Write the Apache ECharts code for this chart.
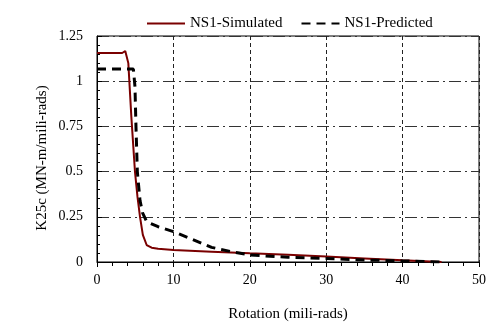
<!DOCTYPE html>
<html><head><meta charset="utf-8">
<script src="https://cdn.jsdelivr.net/npm/echarts@6/dist/echarts.min.js"></script>
<style>html,body{margin:0;padding:0;background:#fff}#c{width:486px;height:322px}</style>
</head><body><div id="c"></div>
<script>
const simX = [0, 2, 3.3, 3.7, 3.9, 4.1, 4.5, 4.97, 5.3, 5.63, 6.0, 6.5, 7.15, 8, 10, 15, 20, 25, 30, 35, 40, 45.1];
const simY = [1.156, 1.156, 1.156, 1.167, 1.16, 1.10, 0.80, 0.50, 0.36, 0.25, 0.15, 0.094, 0.079, 0.073, 0.066, 0.057, 0.048, 0.040, 0.030, 0.020, 0.009, 0.0];
const predX = [0, 4.76, 4.97, 5.1, 5.28, 5.63, 5.98, 6.5, 8, 10, 12.5, 15, 17.5, 20, 25, 30, 35, 40, 45];
const predY = [1.067, 1.067, 0.97, 0.75, 0.50, 0.34, 0.27, 0.223, 0.195, 0.168, 0.125, 0.081, 0.058, 0.039, 0.026, 0.020, 0.011, 0.006, 0.0];
const xTicks = [0, 10, 20, 30, 40, 50];
const yTicks = [0, 0.25, 0.5, 0.75, 1, 1.25];
const seriesNames = ['NS1-Simulated', 'NS1-Predicted'];

const font = 'Liberation Serif';
const chart = echarts.init(document.getElementById('c'), null, {renderer: 'canvas'});
chart.setOption({
  animation: false,
  textStyle: {fontFamily: font},
  legend: {
    top: 11, left: 141, itemGap: 18, itemWidth: 38, itemHeight: 12,
    textStyle: {fontFamily: font, fontSize: 15, color: '#000'},
    itemStyle: {opacity: 0},
    data: seriesNames
  },
  grid: {left: 97, right: 7, top: 36, bottom: 60, show: true, borderColor: '#000', borderWidth: 1,
    containLabel: false, outerBoundsMode: 'none'},
  xAxis: {
    type: 'value', min: xTicks[0], max: xTicks[xTicks.length-1], interval: 10,
    name: 'Rotation (mili-rads)', nameLocation: 'middle', nameGap: 45, nameMoveOverlap: false,
    nameTextStyle: {fontFamily: font, fontSize: 15, color: '#000'},
    axisLine: {lineStyle: {color: '#000', width: 1}},
    axisTick: {inside: false, length: 5, lineStyle: {color: '#000'}},
    minorTick: {show: true, splitNumber: 5, length: 4, lineStyle: {color: '#000'}},
    axisLabel: {fontFamily: font, fontSize: 14, color: '#000', margin: 11},
    splitLine: {show: true, lineStyle: {color: '#222', type: [4, 3], width: 1}}
  },
  yAxis: {
    type: 'value', min: yTicks[0], max: yTicks[yTicks.length-1], interval: 0.25,
    name: 'K25c (MN-m/mili-rads)', nameLocation: 'middle', nameGap: 47, nameMoveOverlap: false,
    nameTextStyle: {fontFamily: font, fontSize: 15, color: '#000', padding: [0, 18, 0, 0]},
    axisLine: {show: true, lineStyle: {color: '#000', width: 1}},
    axisTick: {show: true, inside: true, length: 5, lineStyle: {color: '#000'}},
    minorTick: {show: true, splitNumber: 5, length: 3, lineStyle: {color: '#000'}},
    axisLabel: {fontFamily: font, fontSize: 14, color: '#000', margin: 14,
      formatter: v => String(+v.toFixed(2))},
    splitLine: {show: true, lineStyle: {color: '#333', type: [12, 4, 2, 4], width: 1}}
  },
  series: [
    {
      name: seriesNames[0], type: 'line', showSymbol: false, symbol: 'none', smooth: false,
      data: simX.map((x, i) => [x, simY[i]]),
      lineStyle: {color: '#7a0000', width: 2},
      itemStyle: {color: '#7a0000'}, z: 2
    },
    {
      name: seriesNames[1], type: 'line', showSymbol: false, symbol: 'none',
      data: predX.map((x, i) => [x, predY[i]]),
      lineStyle: {color: '#000', width: 3, type: [9, 6]},
      itemStyle: {color: '#000'}, z: 3
    }
  ]
});
</script></body></html>
